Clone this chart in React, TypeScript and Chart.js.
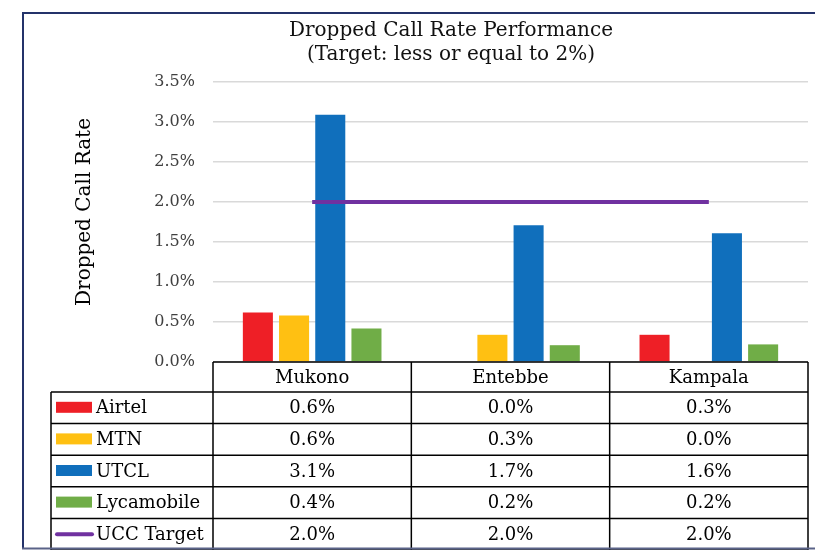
import React, { useEffect, useRef } from 'react';
import { Chart, registerables } from 'chart.js';

Chart.register(...registerables);

const categories = ['Mukono', 'Entebbe', 'Kampala'];
const airtel = [0.62, 0.0, 0.34];
const mtn = [0.58, 0.34, 0.0];
const utcl = [3.09, 1.71, 1.61];
const lycamobile = [0.42, 0.21, 0.22];
const uccTarget = [2.0, 2.0, 2.0];
const yTicks = [0, 0.5, 1, 1.5, 2, 2.5, 3, 3.5];
const titleLines = ['Dropped Call Rate Performance', '(Target: less or equal to 2%)'];
const yTitle = 'Dropped Call Rate';

const SERIF = '"DejaVu Serif", serif';

const series = [
  { name: 'Airtel', values: airtel, color: '#EE1F26', kind: 'bar' },
  { name: 'MTN', values: mtn, color: '#FFC012', kind: 'bar' },
  { name: 'UTCL', values: utcl, color: '#106FBC', kind: 'bar' },
  { name: 'Lycamobile', values: lycamobile, color: '#70AD47', kind: 'bar' },
  { name: 'UCC Target', values: uccTarget, color: '#7031A0', kind: 'line' },
];

const fmt = (v: number) => v.toFixed(1) + '%';

const decorPlugin = {
  id: 'decor',
  afterDraw(chart: any) {
    const ctx = chart.ctx as CanvasRenderingContext2D;
    const area = chart.chartArea;
    const xScale = chart.scales.x;
    const n = categories.length;
    const colW = (area.right - area.left) / n;
    const headTop = area.bottom;
    const headBot = headTop + 30;
    const rowH = 31.6;
    const labelLeft = 51;
    const bottom = headBot + rowH * series.length;

    ctx.save();
    // title
    ctx.fillStyle = '#111';
    ctx.font = `20px ${SERIF}`;
    ctx.textAlign = 'center';
    ctx.textBaseline = 'middle';
    ctx.fillText(titleLines[0], 451, 31);
    ctx.fillText(titleLines[1], 451, 55);

    // y-axis title
    ctx.save();
    ctx.translate(85, 212);
    ctx.rotate(-Math.PI / 2);
    ctx.font = `20px ${SERIF}`;
    ctx.fillStyle = '#000';
    ctx.fillText(yTitle, 0, 0);
    ctx.restore();

    // table grid
    ctx.strokeStyle = '#000';
    ctx.lineWidth = 1.5;
    ctx.beginPath();
    ctx.moveTo(area.left, headTop);
    ctx.lineTo(area.right, headTop);
    for (let r = 0; r <= series.length; r++) {
      const y = headBot + r * rowH;
      ctx.moveTo(labelLeft, y);
      ctx.lineTo(area.right, y);
    }
    for (let c = 0; c <= n; c++) {
      const x = area.left + c * colW;
      ctx.moveTo(x, headTop);
      ctx.lineTo(x, bottom);
    }
    ctx.moveTo(labelLeft, headBot);
    ctx.lineTo(labelLeft, bottom);
    ctx.stroke();

    // header texts
    ctx.fillStyle = '#000';
    ctx.font = `18px ${SERIF}`;
    ctx.textAlign = 'center';
    categories.forEach((cat, i) => {
      ctx.fillText(cat, xScale.getPixelForValue(i), (headTop + headBot) / 2 + 1);
    });

    // rows
    series.forEach((s, r) => {
      const cy = headBot + r * rowH + rowH / 2;
      if (s.kind === 'bar') {
        ctx.fillStyle = s.color;
        ctx.fillRect(56, cy - 6, 36, 11);
      } else {
        ctx.strokeStyle = s.color;
        ctx.lineWidth = 4;
        ctx.lineCap = 'round';
        ctx.beginPath();
        ctx.moveTo(57, cy);
        ctx.lineTo(92, cy);
        ctx.stroke();
      }
      ctx.fillStyle = '#000';
      ctx.textAlign = 'left';
      ctx.fillText(s.name, 96, cy + 1);
      ctx.textAlign = 'center';
      s.values.forEach((v, i) => {
        ctx.fillText(fmt(v), xScale.getPixelForValue(i), cy + 1);
      });
    });

    // frame
    ctx.lineCap = 'butt';
    ctx.strokeStyle = '#24336A';
    ctx.lineWidth = 2;
    ctx.beginPath();
    ctx.moveTo(23, 548);
    ctx.lineTo(23, 13);
    ctx.lineTo(815, 13);
    ctx.stroke();
    ctx.strokeStyle = '#5A6388';
    ctx.beginPath();
    ctx.moveTo(22, 548.5);
    ctx.lineTo(815, 548.5);
    ctx.stroke();
    ctx.restore();
  },
};

export default function App() {
  const ref = useRef<HTMLCanvasElement | null>(null);
  useEffect(() => {
    document.body.style.margin = '0';
    const canvas = ref.current;
    if (!canvas) return;
    const datasets: any[] = series.map((s) =>
      s.kind === 'bar'
        ? {
            type: 'bar',
            label: s.name,
            data: s.values,
            backgroundColor: s.color,
            borderWidth: 0,
            barPercentage: 0.83,
            categoryPercentage: 0.73,
            order: 1,
          }
        : {
            type: 'line',
            label: s.name,
            data: s.values,
            borderColor: s.color,
            backgroundColor: s.color,
            borderWidth: 4,
            pointRadius: 0,
            fill: false,
            order: 0,
          }
    );
    const chart = new Chart(canvas, {
      type: 'bar',
      data: { labels: categories, datasets },
      options: {
        animation: false,
        responsive: false,
        maintainAspectRatio: false,
        layout: { padding: { top: 82, bottom: 188, left: 74, right: 7 } },
        plugins: {
          legend: { display: false },
          title: { display: false },
          tooltip: { enabled: false },
        },
        scales: {
          x: {
            display: false,
            offset: true,
          },
          y: {
            min: 0,
            max: 3.5,
            afterBuildTicks: (s: any) => {
              s.ticks = yTicks.map((v) => ({ value: v }));
            },
            afterFit: (s: any) => {
              s.width = 213 - 74;
            },
            border: { display: false },
            grid: { color: '#D9D9D9', lineWidth: 1.5, drawTicks: false },
            ticks: {
              padding: 18,
              color: '#404040',
              font: { family: SERIF, size: 16 },
              callback: (v: any) => Number(v).toFixed(1) + '%',
            },
          },
        },
      },
      plugins: [decorPlugin],
    } as any);
    return () => chart.destroy();
  }, []);
  return (
    <div style={{ width: 815, height: 550 }}>
      <canvas ref={ref} width={815} height={550} />
    </div>
  );
}
